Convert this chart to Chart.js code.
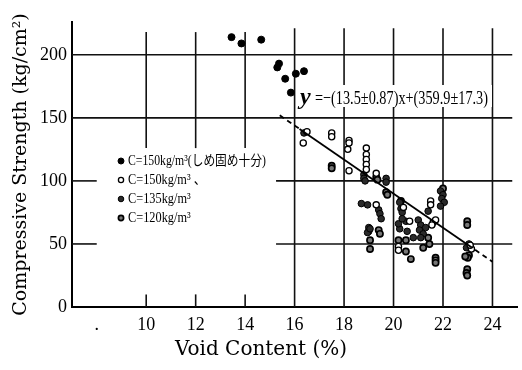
<!DOCTYPE html>
<html>
<head>
<meta charset="utf-8">
<script src="https://cdn.jsdelivr.net/npm/chart.js@4.4.1/dist/chart.umd.min.js"></script>
<style>
  html, body { margin: 0; padding: 0; background: #fff; }
  #wrap { width: 522px; height: 370px; }
</style>
</head>
<body>
<div id="wrap"><canvas id="chart"></canvas></div>
<script>
// C=150 well compacted (filled)
const filledX = [13.45, 13.85, 14.65, 15.3, 15.37, 15.62, 15.85, 16.05, 16.38]
const filledY = [214, 209, 212, 190, 193, 181, 170, 185, 187]

// C=150 (open)
const openX = [16.5, 16.35, 17.5, 17.5, 18.2, 18.2, 18.15, 18.2, 18.9, 18.9, 18.9, 18.9, 18.9, 19.3, 19.3, 20.2, 20.2, 20.65, 21.6, 21.7, 21.5, 21.5, 23.15, 23.1, 20.4, 21.55]
const openY = [139, 130, 138, 135, 132, 130, 125, 108, 126, 121, 117, 113, 109, 106, 81, 48, 45, 68, 67, 69, 84, 81, 46, 49, 79, 65]

// C=135
const c135X = [16.38, 18.8, 18.8, 18.85, 19.7, 19.7, 18.7, 18.95, 19.4, 19.45, 19.5, 19.0, 19.0, 18.95, 19.05, 20.25, 20.3, 20.35, 20.5, 20.25, 20.55, 21.0, 21.1, 21.05, 21.2, 21.1, 21.4, 21.9, 22.0, 21.95, 22.05, 21.9, 23.05, 23.1, 22.95, 20.2, 20.35, 20.8, 21.3]
const c135Y = [138, 105, 102, 100, 102, 99, 82, 81, 77, 74, 70, 63, 60, 59, 62, 83, 78, 75, 68, 62, 60, 69, 65, 61, 58, 55, 76, 92, 89, 86, 83, 80, 50, 48, 47, 66, 70, 55, 63]

// C=120
const c120X = [17.5, 17.5, 19.3, 19.35, 19.7, 19.75, 19.4, 19.45, 19.05, 19.05, 20.2, 20.5, 20.5, 20.7, 21.2, 21.4, 21.45, 21.7, 21.7, 21.7, 22.98, 22.98, 23.05, 23.0, 22.9, 22.98, 22.95, 22.98, 20.3, 22.0]
const c120Y = [112, 110, 103, 101, 91, 89, 61, 58, 53, 46, 53, 53, 44, 38, 47, 55, 50, 39, 37, 35, 68, 65, 41, 39, 40, 30, 27, 25, 84, 94]

// regression y = -13.5x + 359.9 (dashed at both ends)
const fitX = [15.4, 16.2, 23.0, 24.0]
const fitY = [152.0, 141.2, 49.4, 35.9]

const xTicks = [8, 10, 12, 14, 16, 18, 20, 22, 24]
const yTicks = [0, 50, 100, 150, 200]

const seriesLabels = ['C=150kg/m³(しめ固め十分)', 'C=150kg/m³ 、', 'C=135kg/m³', 'C=120kg/m³']
const equationText = '=−(13.5±0.87)x+(359.9±17.3)'

const pts = (xs, ys) => xs.map((v, i) => ({ x: v, y: ys[i] }))

const pointStyles = [
  { bg: '#000', border: '#000', bw: 1, r: 3.5 },
  { bg: '#fff', border: '#000', bw: 1.3, r: 3.1 },
  { bg: '#2a2a2a', border: '#000', bw: 1, r: 3.3 },
  { bg: '#777', border: '#000', bw: 1.7, r: 3.1 }
]

// draw text squeezed horizontally to a maximum width
function squeezed(ctx, text, x, y, maxW, sx) {
  const w = ctx.measureText(text).width
  const k = Math.min(sx, maxW / w)
  ctx.save()
  ctx.translate(x, y)
  ctx.scale(k, 1)
  ctx.fillText(text, 0, 0)
  ctx.restore()
}

const decor = {
  id: 'decor',
  beforeDatasetsDraw(chart) {
    const { ctx, scales: { x, y } } = chart
    ctx.save()
    ctx.strokeStyle = '#111'
    ctx.lineWidth = 1.6
    const h = (v, a, b) => {
      ctx.beginPath()
      ctx.moveTo(x.getPixelForValue(a), y.getPixelForValue(v))
      ctx.lineTo(x.getPixelForValue(b), y.getPixelForValue(v))
      ctx.stroke()
    }
    const vl = (v, a, b) => {
      ctx.beginPath()
      ctx.moveTo(x.getPixelForValue(v), y.getPixelForValue(a))
      ctx.lineTo(x.getPixelForValue(v), y.getPixelForValue(b))
      ctx.stroke()
    }
    h(200, 7, 24.8)
    h(150, 7, 24.8)
    h(100, 7, 8)
    h(100, 15.25, 24.8)
    h(50, 7, 8)
    h(50, 15.25, 24.8)
    ;[10, 12, 14].forEach(v => { vl(v, 126, 218); vl(v, 0, 10) })
    ;[16, 18, 20, 22, 24].forEach(v => vl(v, 0, 221))

    // equation
    ctx.fillStyle = '#fff'
    ctx.fillRect(298, 85, 194, 22)
    ctx.fillStyle = '#000'
    ctx.textBaseline = 'alphabetic'
    ctx.font = "italic bold 24px 'Liberation Serif'"
    ctx.fillText('y', 300, 104)
    ctx.font = "19px 'Liberation Serif'"
    squeezed(ctx, equationText, 315, 104, 173, 1)
    ctx.restore()
  },
  afterDatasetsDraw(chart) {
    const { ctx } = chart
    ctx.save()
    const widths = [130, 70, 63, 63]
    seriesLabels.forEach((t, i) => {
      const yy = 161 + i * 19
      const s = pointStyles[i]
      ctx.fillStyle = s.bg
      ctx.strokeStyle = s.border
      ctx.lineWidth = s.bw
      Chart.helpers.drawPoint(ctx, { pointStyle: 'circle', radius: s.r - 0.5, rotation: 0, borderWidth: s.bw }, 121, yy)
      ctx.fillStyle = '#000'
      ctx.font = "14px 'Liberation Serif', 'Noto Sans CJK JP'"
      ctx.textBaseline = 'middle'
      squeezed(ctx, t, 128, yy, widths[i] + 8, 0.88)
    })
    // x axis title
    ctx.font = "20px 'DejaVu Serif'"
    ctx.textAlign = 'center'
    ctx.textBaseline = 'middle'
    ctx.fillText('Void Content (%)', 261, 350)
    ctx.restore()
  }
}

const mk = (label, data, s) => ({
  type: 'scatter',
  label,
  data,
  pointRadius: s.r,
  pointBackgroundColor: s.bg,
  pointBorderColor: s.border,
  pointBorderWidth: s.bw,
  pointHoverRadius: s.r
})

new Chart(document.getElementById('chart'), {
  data: {
    datasets: [
      {
        type: 'line',
        label: 'fit',
        data: pts(fitX, fitY),
        borderColor: '#000',
        borderWidth: 1.8,
        pointRadius: 0,
        segment: {
          borderDash: c => (c.p0DataIndex === 1 ? [] : [5, 4])
        }
      },
      mk(seriesLabels[0], pts(filledX, filledY), pointStyles[0]),
      mk(seriesLabels[1], pts(openX, openY), pointStyles[1]),
      mk(seriesLabels[2], pts(c135X, c135Y), pointStyles[2]),
      mk(seriesLabels[3], pts(c120X, c120Y), pointStyles[3])
    ]
  },
  options: {
    responsive: true,
    maintainAspectRatio: false,
    animation: false,
    layout: { padding: { top: 22, right: 4, left: 0, bottom: 0 } },
    plugins: {
      legend: { display: false },
      tooltip: { enabled: false }
    },
    scales: {
      x: {
        type: 'linear',
        min: 7,
        max: 25,
        afterBuildTicks: s => { s.ticks = xTicks.map(v => ({ value: v })) },
        afterFit: s => { s.height = 63 },
        grid: { display: false, drawTicks: false },
        border: { display: true, color: '#000', width: 2 },
        ticks: {
          color: '#000',
          padding: 7,
          font: { family: 'Liberation Serif', size: 18 },
          callback: v => (v === 8 ? '.' : String(v))
        }
      },
      y: {
        min: 0,
        max: 226,
        afterBuildTicks: s => { s.ticks = yTicks.map(v => ({ value: v })) },
        afterFit: s => { s.width = 72 },
        grid: { display: false, drawTicks: false },
        border: { display: true, color: '#000', width: 2 },
        ticks: {
          color: '#000',
          padding: 5,
          font: { family: 'Liberation Serif', size: 18 }
        },
        title: {
          display: true,
          text: 'Compressive Strength (kg/cm²)',
          color: '#000',
          font: { family: 'DejaVu Serif', size: 19 },
          padding: { top: 10, bottom: 0 }
        }
      }
    }
  },
  plugins: [decor]
})
</script>
</body>
</html>
